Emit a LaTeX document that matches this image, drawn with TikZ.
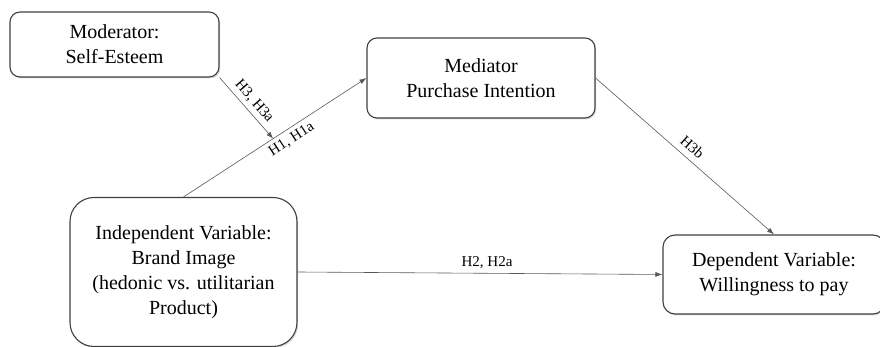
\documentclass[tikz,border=0pt]{standalone}
\usepackage{fontspec}
\setmainfont{Liberation Serif}
\usetikzlibrary{arrows.meta,shadows,calc}

\tikzset{
  varbox/.style={draw=black!75, line width=1.1pt, rounded corners=#1, fill=white,
    align=center, inner sep=0pt, font=\fontsize{20}{25}\selectfont,
    drop shadow={shadow xshift=1.2pt, shadow yshift=-1.5pt, opacity=0.3}},
  varbox/.default=10pt,
  hyp/.style={-{Latex[length=7pt,width=5pt]}, draw=black!65, line width=0.6pt},
  hyplabel/.style={font=\fontsize{15}{18}\selectfont, sloped, inner sep=4pt}
}

\begin{document}
\begin{tikzpicture}[x=1pt,y=1pt]
  \useasboundingbox (0,0) rectangle (880,347);

  % variables
  \node[varbox, minimum width=209pt, minimum height=65pt] (mod) at (114.5,302.5)
    {Moderator:\\Self-Esteem};
  \node[varbox, minimum width=228pt, minimum height=80pt] (med) at (481,269)
    {Mediator\\Purchase Intention};
  \node[varbox=24pt, minimum width=227pt, minimum height=149pt] (ind) at (183.5,75)
    {Independent Variable:\\Brand Image\\(hedonic vs. utilitarian\\Product)};
  \node[varbox=12pt, minimum width=222pt, minimum height=79pt] (dep) at (774,72.5)
    {Dependent Variable:\\Willingness to pay};

  % hypotheses
  \draw[hyp] (ind.north) -- node[hyplabel, pos=0.56, below] {H1, H1a}
    coordinate[pos=0.49] (cross) (med.west);
  \draw[hyp] (mod.south east) -- node[hyplabel, pos=0.5, above] {H3, H3a} (cross);
  \draw[hyp] (med.east) -- node[hyplabel, pos=0.5, above, inner sep=6pt] {H3b} (dep.north);
  \draw[hyp] (ind.east) -- node[hyplabel, midway, above, xshift=7pt] {H2, H2a} (dep.west);

\end{tikzpicture}
\end{document}
